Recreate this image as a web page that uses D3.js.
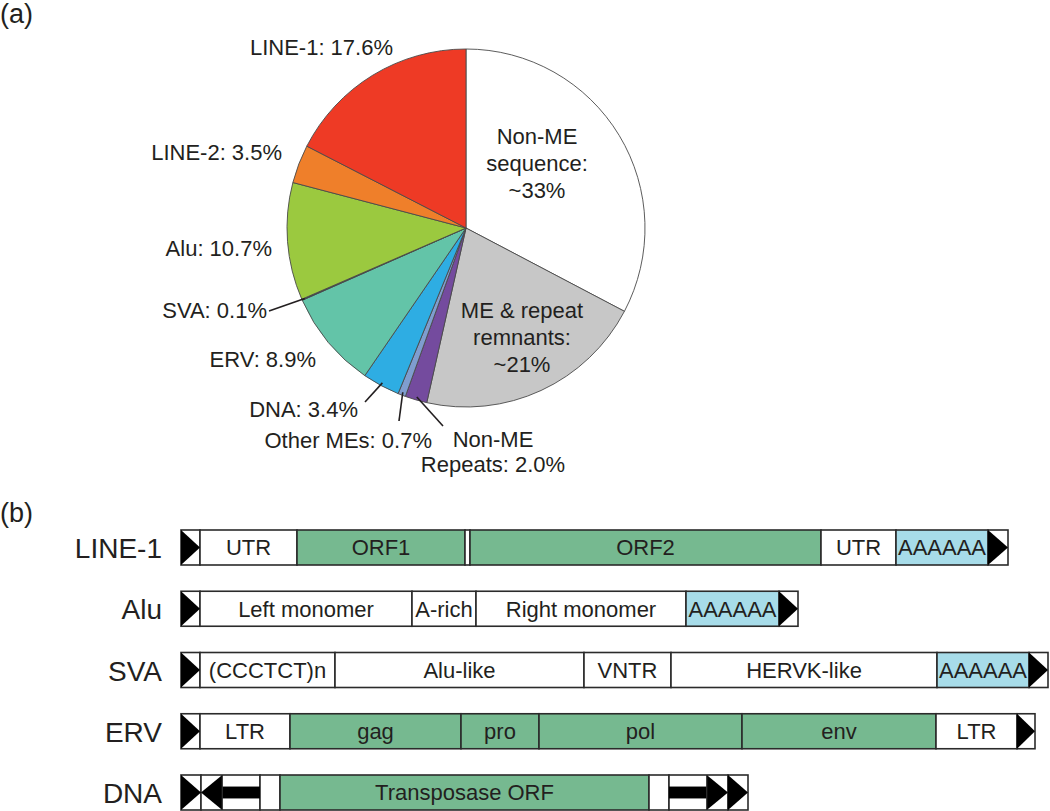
<!DOCTYPE html>
<html>
<head>
<meta charset="utf-8">
<script src="https://cdn.jsdelivr.net/npm/d3@7"></script>
<style>
  body { margin: 0; background: #fff; }
  text { font-family: "Liberation Sans", Arial, sans-serif; fill: #231f20; }
</style>
</head>
<body>
<div id="chart"></div>
<script>
// (a) genome composition, clockwise from 12 o'clock
const categories = ["Non-ME sequence", "ME & repeat remnants", "Non-ME Repeats", "Other MEs",
                    "DNA", "ERV", "SVA", "Alu", "LINE-2", "LINE-1"];
const shares = [33, 21, 2.0, 0.7, 3.4, 8.9, 0.1, 10.7, 3.5, 17.6];
const shareLabels = ["~33%", "~21%", "2.0%", "0.7%", "3.4%", "8.9%", "0.1%", "10.7%", "3.5%", "17.6%"];
const sliceColors = ["#ffffff", "#c7c7c7", "#744b9e", "#7f9dcf", "#2eade3",
                     "#63c4a8", "#27425e", "#9bc93f", "#ef7f2a", "#ee3a25"];

// (b) element structures, segment sizes in schematic units
const rowNames = ["LINE-1", "Alu", "SVA", "ERV", "DNA"];

const line1Labels = ["", "UTR", "ORF1", "", "ORF2", "UTR", "AAAAAA", ""];
const line1Sizes  = [19, 97, 168, 5, 351, 75, 92, 20];
const line1Kinds  = ["tri", "plain", "orf", "plain", "orf", "plain", "polyA", "tri"];

const aluLabels = ["", "Left monomer", "A-rich", "Right monomer", "AAAAAA", ""];
const aluSizes  = [19, 212, 64, 210, 93, 19];
const aluKinds  = ["tri", "plain", "plain", "plain", "polyA", "tri"];

const svaLabels = ["", "(CCCTCT)n", "Alu-like", "VNTR", "HERVK-like", "AAAAAA", ""];
const svaSizes  = [19, 135, 249, 87, 266, 92, 19];
const svaKinds  = ["tri", "plain", "plain", "plain", "plain", "polyA", "tri"];

const ervLabels = ["", "LTR", "gag", "pro", "pol", "env", "LTR", ""];
const ervSizes  = [19, 90, 171, 78, 203, 194, 81, 18];
const ervKinds  = ["tri", "plain", "orf", "orf", "orf", "orf", "plain", "tri"];

const dnaLabels = ["", "", "", "Transposase ORF", "", "", ""];
const dnaSizes  = [20, 59, 20, 369, 20, 59, 20];
const dnaKinds  = ["tri", "arrowL", "plain", "orf", "plain", "arrowR", "tri"];

const width = 1050;
const height = 811;

const svg = d3.select('#chart')
    .append('svg')
        .attr('width', width)
        .attr('height', height);

// panel letters
svg.append('text').attr('x', 0).attr('y', 23).attr('font-size', 27).text('(a)');
svg.append('text').attr('x', 0).attr('y', 522).attr('font-size', 27).text('(b)');

// ---------- pie ----------
const cx = 466, cy = 228, radius = 179;

const pie = d3.pie().sort(null).value(d => d.value);
const arcs = pie(categories.map((c, i) => ({ name: c, value: shares[i], label: shareLabels[i], color: sliceColors[i] })));

const arc = d3.arc().innerRadius(0).outerRadius(radius);
const edge = d3.arc().innerRadius(radius - 3).outerRadius(radius - 3);

const gPie = svg.append('g').attr('transform', `translate(${cx},${cy})`);

gPie.selectAll('path')
    .data(arcs)
    .enter()
    .append('path')
        .attr('d', arc)
        .attr('fill', d => d.data.color)
        .attr('stroke', '#4a4a4a')
        .attr('stroke-width', 0.9)
        .attr('stroke-linejoin', 'round');

// label placement (page coordinates), lines split where the figure wraps them
const labelSpots = {
    "Non-ME sequence":      { x: 537, y: 144, anchor: 'middle', lines: ['Non-ME', 'sequence:', '~33%'], lh: 27 },
    "ME & repeat remnants": { x: 522, y: 318, anchor: 'middle', lines: ['ME & repeat', 'remnants:', '~21%'], lh: 27 },
    "Non-ME Repeats":       { x: 493, y: 447, anchor: 'middle', lines: ['Non-ME', 'Repeats: 2.0%'], lh: 25, lead: [443, 426] },
    "Other MEs":            { x: 432, y: 448, anchor: 'end', lead: [399, 421] },
    "DNA":                  { x: 358, y: 417, anchor: 'end', lead: [365, 402] },
    "ERV":                  { x: 316, y: 367, anchor: 'end' },
    "SVA":                  { x: 267, y: 318, anchor: 'end', lead: [269, 311] },
    "Alu":                  { x: 272, y: 256, anchor: 'end' },
    "LINE-2":               { x: 282, y: 160, anchor: 'end' },
    "LINE-1":               { x: 393, y: 55,  anchor: 'end' }
};

arcs.forEach(d => {
    const spot = labelSpots[d.data.name];
    const lines = spot.lines || [`${d.data.name}: ${d.data.label}`];
    const t = svg.append('text')
        .attr('x', spot.x)
        .attr('y', spot.y)
        .attr('font-size', 22)
        .attr('text-anchor', spot.anchor);
    lines.forEach((ln, i) => {
        t.append('tspan').attr('x', spot.x).attr('dy', i === 0 ? 0 : spot.lh).text(ln);
    });
    if (spot.lead) {
        const p = edge.centroid(d);
        svg.append('line')
            .attr('x1', spot.lead[0]).attr('y1', spot.lead[1])
            .attr('x2', cx + p[0]).attr('y2', cy + p[1])
            .attr('stroke', '#231f20')
            .attr('stroke-width', 1.6);
    }
});

// ---------- element diagrams ----------
const x = d3.scaleLinear().domain([0, 867]).range([181, 1048]);
const y = d3.scaleBand().domain(rowNames).range([530, 810]).paddingInner(0.4286).paddingOuter(0);

const kindFill = { plain: '#ffffff', tri: '#ffffff', arrowL: '#ffffff', arrowR: '#ffffff', orf: '#76b990', polyA: '#a7dce9' };

const rows = [
    [line1Labels, line1Sizes, line1Kinds],
    [aluLabels, aluSizes, aluKinds],
    [svaLabels, svaSizes, svaKinds],
    [ervLabels, ervSizes, ervKinds],
    [dnaLabels, dnaSizes, dnaKinds]
];

rows.forEach(([labels, sizes, kinds], r) => {
    const name = rowNames[r];
    const y0 = y(name), h = y.bandwidth(), ym = y0 + h / 2;
    let acc = 0;
    const segs = sizes.map((s, i) => {
        const seg = { start: acc, end: acc + s, label: labels[i], kind: kinds[i] };
        acc += s;
        return seg;
    });

    svg.append('text')
        .attr('x', 162)
        .attr('y', ym + 10.5)
        .attr('font-size', 28)
        .attr('text-anchor', 'end')
        .text(name);

    const g = svg.append('g');

    g.selectAll('rect')
        .data(segs)
        .enter()
        .append('rect')
            .attr('x', d => x(d.start))
            .attr('y', y0)
            .attr('width', d => x(d.end) - x(d.start))
            .attr('height', h)
            .attr('fill', d => kindFill[d.kind])
            .attr('stroke', '#2b2b2b')
            .attr('stroke-width', 1.6);

    segs.forEach(d => {
        const x0 = x(d.start), x1 = x(d.end);
        if (d.kind === 'tri') {
            g.append('path')
                .attr('d', `M${x0},${y0}L${x1},${ym}L${x0},${y0 + h}Z`)
                .attr('fill', '#000');
        } else if (d.kind === 'arrowL' || d.kind === 'arrowR') {
            const head = (x1 - x0) * 0.36;
            const sh = h * 0.34;
            let headPath, shaftX, neck;
            if (d.kind === 'arrowL') {
                neck = x0 + head;
                headPath = `M${neck},${y0}L${x0},${ym}L${neck},${y0 + h}Z`;
                shaftX = [neck, x1];
            } else {
                neck = x1 - head;
                headPath = `M${neck},${y0}L${x1},${ym}L${neck},${y0 + h}Z`;
                shaftX = [x0, neck];
            }
            g.append('rect')
                .attr('x', shaftX[0]).attr('y', ym - sh / 2)
                .attr('width', shaftX[1] - shaftX[0]).attr('height', sh)
                .attr('fill', '#000');
            g.append('path').attr('d', headPath).attr('fill', '#000');
            g.append('line')
                .attr('x1', neck).attr('x2', neck)
                .attr('y1', y0).attr('y2', y0 + h)
                .attr('stroke', '#2b2b2b').attr('stroke-width', 1.2);
        }
        if (d.label) {
            g.append('text')
                .attr('x', (x0 + x1) / 2)
                .attr('y', ym + 7.8)
                .attr('font-size', 22)
                .attr('text-anchor', 'middle')
                .attr('fill', d.kind === 'orf' ? '#2a2a2a' : '#111')
                .text(d.label);
        }
    });
});
</script>
</body>
</html>
